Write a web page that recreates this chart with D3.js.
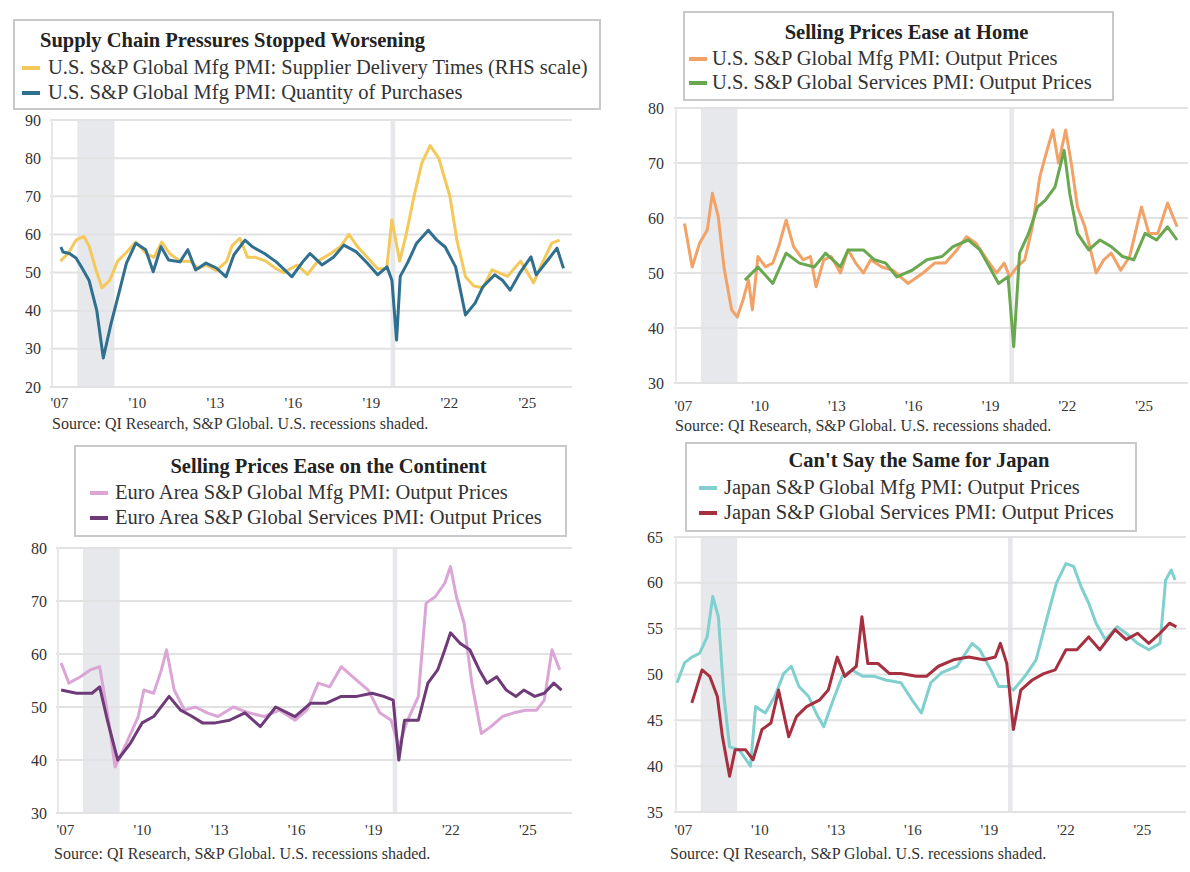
<!DOCTYPE html>
<html>
<head>
<meta charset="utf-8">
<script src="https://cdn.jsdelivr.net/npm/d3@7"></script>
<style>
  body { margin: 0; background: #fff; }
  svg { display: block; font-family: "Liberation Serif", "Times New Roman", serif; }
</style>
</head>
<body>
<div id="chart-area"></div>
<script>
// ---- data (decimal year, index value) ----
var xTickYears = [2007, 2010, 2013, 2016, 2019, 2022, 2025];
var xTickLabels = ["'07", "'10", "'13", "'16", "'19", "'22", "'25"];
var recessions = [[2008.05, 2009.48], [2020.1, 2020.28]];
var sourceNote = "Source: QI Research, S&P Global. U.S. recessions shaded.";

var usSupplierDelivery = [[2007.4,53],[2007.7,55],[2008.0,58.5],[2008.3,59.5],[2008.5,57],[2008.8,50],[2009.0,46],
  [2009.3,48],[2009.6,53],[2009.9,55],[2010.3,58],[2010.7,55],[2011.0,54],[2011.3,58],[2011.6,55],[2012.0,53],
  [2012.4,53],[2012.7,51],[2013.0,52],[2013.4,50.5],[2013.8,53],[2014.0,57],[2014.3,59],[2014.6,54],[2014.9,54],
  [2015.3,53],[2015.7,51],[2016.0,50],[2016.5,52],[2016.9,49.5],[2017.3,53],[2017.8,55],[2018.2,57],[2018.5,60],
  [2018.8,57],[2019.2,54],[2019.6,51],[2019.95,51],[2020.15,63.8],[2020.45,53],[2020.7,60],[2021.0,70],
  [2021.3,78.7],[2021.62,83.3],[2021.95,80],[2022.38,70],[2022.65,58.5],[2022.98,48.9],[2023.3,46.5],
  [2023.65,46],[2024.0,50.7],[2024.6,49],[2025.1,53],[2025.6,47.3],[2025.9,52],[2026.3,57.7],[2026.6,58.5]];
var usPurchaseQty = [[2007.42,56.7],[2007.5,55.4],[2007.75,55.0],[2008.0,53.8],[2008.25,51],[2008.5,48],[2008.8,40],
  [2009.05,27.6],[2009.35,36.7],[2009.65,44.6],[2009.94,52.5],[2010.3,57.7],[2010.68,56],[2010.97,50.2],
  [2011.27,56.8],[2011.56,53.3],[2012.0,52.8],[2012.3,56],[2012.6,50.7],[2013.0,52.5],[2013.4,51.2],
  [2013.77,48.9],[2014.07,54.6],[2014.5,58.5],[2014.8,56.7],[2015.25,55],[2015.7,52.8],[2016.3,48.9],
  [2016.72,52.8],[2017.0,55],[2017.46,52],[2017.9,54],[2018.3,57.2],[2018.77,55.5],[2019.2,52.5],[2019.6,49.4],
  [2019.96,51.5],[2020.15,48],[2020.33,32.3],[2020.47,49],[2020.77,52.8],[2021.1,57.7],[2021.55,61.1],
  [2021.88,58.5],[2022.2,56.7],[2022.6,51.5],[2022.98,38.9],[2023.35,42],[2023.65,46.3],[2024.1,49.4],
  [2024.4,48],[2024.7,45.4],[2025.1,50.2],[2025.5,54.1],[2025.7,49.4],[2026.15,53.3],[2026.5,56.4],[2026.75,51.1]];

var usMfgOutput = [[2007.41,59],[2007.71,51.1],[2008.0,55.4],[2008.3,57.8],[2008.5,64.5],[2008.73,60.2],[2008.95,51.1],
  [2009.25,43.3],[2009.47,42],[2009.69,45],[2009.91,48.7],[2010.06,43.3],[2010.28,53],[2010.57,51.1],
  [2010.86,51.8],[2011.09,54.8],[2011.38,59.6],[2011.67,54.8],[2012.04,52.4],[2012.33,53],[2012.55,47.5],
  [2012.85,52.4],[2013.14,53],[2013.5,50],[2013.8,54.2],[2014.1,51.8],[2014.4,50],[2014.68,52.4],[2015.12,51.1],
  [2015.55,50.5],[2016.14,48.1],[2016.73,50],[2017.18,51.8],[2017.6,51.8],[2018.05,54.2],[2018.43,56.6],
  [2018.8,55.4],[2019.23,52.4],[2019.6,50],[2019.9,51.8],[2020.11,49.3],[2020.4,51.1],[2020.7,52.4],[2021.0,58.4],
  [2021.29,67.5],[2021.5,71.1],[2021.8,76],[2022.02,70],[2022.3,76],[2022.54,69.3],[2022.76,62],[2023.05,58.4],
  [2023.27,54.2],[2023.49,50],[2023.79,52.4],[2024.08,53.6],[2024.45,50.5],[2024.8,53],[2025.26,62],
  [2025.55,57.2],[2025.9,57.2],[2026.28,62.7],[2026.65,58.4]];
var usSvcOutput = [[2009.77,48.7],[2010.28,51.1],[2010.86,48.1],[2011.38,53.6],[2011.9,51.8],[2012.48,51.1],
  [2012.92,53.6],[2013.5,51.1],[2013.8,54.2],[2014.4,54.2],[2014.83,52.4],[2015.27,51.8],[2015.7,49.3],
  [2016.3,50.5],[2016.88,52.4],[2017.47,53],[2017.9,54.8],[2018.5,56],[2018.95,54.2],[2019.68,48.1],
  [2020.05,49.3],[2020.27,36.6],[2020.5,53.6],[2020.85,57.2],[2021.2,62],[2021.5,63.2],[2021.88,65.6],
  [2022.24,72.3],[2022.46,64.4],[2022.76,57.2],[2023.2,54.2],[2023.64,56],[2024.08,54.8],[2024.52,53],
  [2024.96,52.4],[2025.4,57.2],[2025.85,56],[2026.28,58.4],[2026.65,56]];

var ezMfgOutput = [[2007.2,58.3],[2007.5,54.5],[2007.95,55.7],[2008.33,57],[2008.7,57.6],[2009.0,48.9],[2009.3,38.7],
  [2009.74,43.2],[2010.2,48.2],[2010.42,53.2],[2010.8,52.6],[2011.1,57],[2011.3,60.8],[2011.6,53.2],[2012.0,49.4],
  [2012.43,50],[2012.88,48.9],[2013.3,48.2],[2013.9,50],[2014.5,48.9],[2015.1,48.2],[2015.7,49.4],[2016.3,47.5],
  [2016.76,49.4],[2017.2,54.5],[2017.65,53.8],[2018.1,57.6],[2018.55,55.7],[2019.15,53.2],[2019.6,48.9],
  [2020.04,47.5],[2020.34,42.5],[2020.64,47],[2021.1,52],[2021.4,69.6],[2021.76,70.8],[2022.13,73.4],
  [2022.35,76.5],[2022.58,70.8],[2022.88,65.8],[2023.18,54.5],[2023.55,45],[2023.92,46.3],[2024.37,48.2],
  [2024.82,48.9],[2025.27,49.4],[2025.7,49.4],[2026.0,51.3],[2026.3,60.8],[2026.6,57]];
var ezSvcOutput = [[2007.2,53.2],[2007.8,52.6],[2008.4,52.6],[2008.7,53.8],[2009.0,47.5],[2009.4,40],[2009.9,43.2],
  [2010.35,47],[2010.8,48.2],[2011.4,52],[2011.85,49.4],[2012.3,48.2],[2012.7,47],[2013.2,47],[2013.75,47.5],
  [2014.35,48.9],[2014.95,46.3],[2015.55,50],[2016.3,48.2],[2016.9,50.7],[2017.5,50.7],[2018.1,52],[2018.7,52],
  [2019.3,52.6],[2019.75,52],[2020.12,51.3],[2020.34,40],[2020.56,47.5],[2021.1,47.5],[2021.47,54.5],
  [2021.85,57],[2022.13,60.8],[2022.35,64],[2022.73,62],[2023.1,60.8],[2023.47,57],[2023.77,54.5],[2024.15,55.7],
  [2024.52,53.2],[2024.9,52],[2025.2,53.2],[2025.63,52],[2026.0,52.6],[2026.37,54.5],[2026.67,53.2]];

var jpMfgOutput = [[2007.12,49.1],[2007.42,51.3],[2007.7,51.9],[2008.0,52.3],[2008.3,54.1],[2008.52,58.5],
  [2008.74,56.3],[2008.96,47.6],[2009.18,42.1],[2009.55,41.8],[2010.0,40],[2010.2,46.5],[2010.58,45.8],
  [2010.95,47.6],[2011.3,50.1],[2011.6,50.9],[2011.9,48.7],[2012.28,47.6],[2012.57,45.8],[2012.87,44.3],
  [2013.24,47.2],[2013.6,49.8],[2013.98,50.5],[2014.4,49.8],[2014.86,49.8],[2015.3,49.4],[2015.9,49.1],
  [2016.34,47.2],[2016.7,45.8],[2017.07,49.1],[2017.5,50.2],[2018.1,50.9],[2018.69,53.4],[2018.99,52.7],
  [2019.43,50.5],[2019.73,48.7],[2020.1,48.7],[2020.31,48.3],[2020.76,49.8],[2021.2,51.6],[2021.64,56.3],
  [2022.0,60],[2022.37,62.1],[2022.67,61.8],[2022.96,59.6],[2023.26,57.8],[2023.55,55.6],[2023.92,53.8],
  [2024.37,55.2],[2024.73,54.5],[2025.18,53.4],[2025.62,52.7],[2026.06,53.4],[2026.28,60.3],[2026.5,61.4],
  [2026.65,60.3]];
var jpSvcOutput = [[2007.7,46.9],[2008.1,50.5],[2008.4,49.8],[2008.7,47.6],[2008.9,43.2],[2009.18,38.9],[2009.4,41.8],
  [2009.8,41.8],[2010.1,40.7],[2010.45,44],[2010.8,44.7],[2011.1,48.3],[2011.5,43.2],[2011.8,45.4],[2012.2,46.5],
  [2012.7,47.2],[2013.05,48.3],[2013.4,51.9],[2013.7,49.8],[2014.15,50.9],[2014.37,56.3],[2014.6,51.2],
  [2015.0,51.2],[2015.45,50.1],[2015.9,50.1],[2016.5,49.8],[2016.9,49.8],[2017.37,50.9],[2017.96,51.6],
  [2018.55,51.9],[2019.15,51.6],[2019.6,51.9],[2019.8,53.4],[2020.05,51.2],[2020.31,44],[2020.6,48.3],
  [2021.05,49.4],[2021.5,50.1],[2021.95,50.5],[2022.37,52.7],[2022.8,52.7],[2023.26,54.1],[2023.7,52.7],
  [2024.3,54.9],[2024.73,53.8],[2025.18,54.5],[2025.62,53.4],[2026.06,54.5],[2026.43,55.6],[2026.7,55.2]];

// ---- panel layout and styling ----
var panels = [
  {
    title: "Supply Chain Pressures Stopped Worsening", titleAlign: "start",
    box: {x: 14, y: 20, w: 586, h: 89}, titleY: 47, rowY: [74, 99], swatchX: 22, textX: 48,
    xRange: [50, 570], yDomain: [20, 90], yRange: [387, 120], yTicks: [20, 30, 40, 50, 60, 70, 80, 90],
    yLabelX: 41, xLabelY: 407, sourceX: 52, sourceY: 429,
    series: [
      {name: "U.S. S&P Global Mfg PMI: Supplier Delivery Times (RHS scale)", data: usSupplierDelivery, color: "#f5c85a"},
      {name: "U.S. S&P Global Mfg PMI: Quantity of Purchases", data: usPurchaseQty, color: "#2f6f8f"}
    ]
  },
  {
    title: "Selling Prices Ease at Home", titleAlign: "middle",
    box: {x: 684, y: 12, w: 429, h: 88}, titleY: 39, rowY: [65, 89], swatchX: 689, textX: 712,
    xRange: [674, 1186], yDomain: [30, 80], yRange: [383, 108], yTicks: [30, 40, 50, 60, 70, 80],
    yLabelX: 664, xLabelY: 410, sourceX: 675, sourceY: 431,
    series: [
      {name: "U.S. S&P Global Mfg PMI: Output Prices", data: usMfgOutput, color: "#f2a266"},
      {name: "U.S. S&P Global Services PMI: Output Prices", data: usSvcOutput, color: "#6aa84f"}
    ]
  },
  {
    title: "Selling Prices Ease on the Continent", titleAlign: "middle",
    box: {x: 75, y: 446, w: 491, h: 90}, titleY: 473, rowY: [499, 524], swatchX: 90, textX: 115,
    xRange: [56, 570], yDomain: [30, 80], yRange: [813, 548], yTicks: [30, 40, 50, 60, 70, 80],
    yLabelX: 47, xLabelY: 834, sourceX: 54, sourceY: 859,
    series: [
      {name: "Euro Area S&P Global Mfg PMI: Output Prices", data: ezMfgOutput, color: "#dba6d6"},
      {name: "Euro Area S&P Global Services PMI: Output Prices", data: ezSvcOutput, color: "#6e3b78"}
    ]
  },
  {
    title: "Can't Say the Same for Japan", titleAlign: "middle",
    box: {x: 686, y: 443, w: 450, h: 88}, titleY: 467, rowY: [494, 519], swatchX: 699, textX: 724,
    xRange: [674, 1184], yDomain: [35, 65], yRange: [812, 537], yTicks: [35, 40, 45, 50, 55, 60, 65],
    yLabelX: 663, xLabelY: 834, sourceX: 670, sourceY: 859,
    series: [
      {name: "Japan S&P Global Mfg PMI: Output Prices", data: jpMfgOutput, color: "#7fd0cf"},
      {name: "Japan S&P Global Services PMI: Output Prices", data: jpSvcOutput, color: "#a6303f"}
    ]
  }
];

var svg = d3.select("#chart-area")
  .append("svg")
    .attr("width", 1190)
    .attr("height", 872);

panels.forEach(drawPanel);

function drawPanel(p) {
  var g = svg.append("g");

  var x = d3.scaleLinear().domain([2007, 2027]).range(p.xRange);
  var y = d3.scaleLinear().domain(p.yDomain).range(p.yRange);

  // recession shading
  g.selectAll(".rec")
    .data(recessions)
    .enter().append("rect")
      .attr("x", d => x(d[0]))
      .attr("width", d => x(d[1]) - x(d[0]))
      .attr("y", y.range()[1])
      .attr("height", y.range()[0] - y.range()[1])
      .attr("fill", "#e6e8ec");

  // gridlines
  g.selectAll(".grid")
    .data(p.yTicks)
    .enter().append("line")
      .attr("x1", p.xRange[0])
      .attr("x2", p.xRange[1] + 2)
      .attr("y1", d => y(d))
      .attr("y2", d => y(d))
      .attr("stroke", "#e2e2e2")
      .attr("stroke-width", 2);

  g.append("line")
    .attr("x1", p.xRange[0] + 2).attr("x2", p.xRange[0] + 2)
    .attr("y1", y.range()[1]).attr("y2", y.range()[0])
    .attr("stroke", "#e8e8e8")
    .attr("stroke-width", 2);

  // y axis labels
  var yAxis = g.append("g")
    .attr("transform", "translate(" + p.yLabelX + ",0)")
    .call(d3.axisLeft(y).tickValues(p.yTicks).tickSize(0).tickPadding(0).tickFormat(d3.format("d")));
  yAxis.select(".domain").remove();
  yAxis.selectAll("text").attr("font-size", 16).attr("fill", "#333").style("font-family", "Liberation Serif, serif");

  // x axis labels
  var xAxis = g.append("g")
    .attr("transform", "translate(0," + (p.xLabelY - 10) + ")")
    .call(d3.axisBottom(x).tickValues(xTickYears).tickSize(0).tickPadding(0)
      .tickFormat((d, i) => xTickLabels[i]));
  xAxis.select(".domain").remove();
  xAxis.selectAll("text").attr("font-size", 15).attr("fill", "#333")
    .attr("text-anchor", "start").style("font-family", "Liberation Serif, serif");

  // series lines
  var line = d3.line()
    .x(d => x(d[0]))
    .y(d => y(d[1]));

  g.selectAll(".series")
    .data(p.series)
    .enter().append("path")
      .attr("d", d => line(d.data))
      .attr("fill", "none")
      .attr("stroke", d => d.color)
      .attr("stroke-width", 3)
      .attr("stroke-linejoin", "round");

  // source note
  g.append("text")
    .attr("x", p.sourceX)
    .attr("y", p.sourceY)
    .attr("font-size", 16)
    .attr("fill", "#333")
    .text(sourceNote);

  // legend box
  var lg = g.append("g");
  lg.append("rect")
    .attr("x", p.box.x).attr("y", p.box.y)
    .attr("width", p.box.w).attr("height", p.box.h)
    .attr("fill", "#fff")
    .attr("stroke", "#c9c9c9")
    .attr("stroke-width", 2);

  lg.append("text")
    .attr("x", p.titleAlign === "start" ? p.textX - 8 : p.box.x + p.box.w / 2 + 8)
    .attr("y", p.titleY)
    .attr("text-anchor", p.titleAlign)
    .attr("font-size", 20.5)
    .attr("font-weight", "bold")
    .attr("fill", "#222")
    .text(p.title);

  p.series.forEach(function(s, i) {
    lg.append("line")
      .attr("x1", p.swatchX).attr("x2", p.swatchX + 18)
      .attr("y1", p.rowY[i] - 6).attr("y2", p.rowY[i] - 6)
      .attr("stroke", s.color)
      .attr("stroke-width", 4);
    lg.append("text")
      .attr("x", p.textX)
      .attr("y", p.rowY[i])
      .attr("font-size", 20.5)
      .attr("fill", "#333")
      .text(s.name);
  });
}
</script>
</body>
</html>
